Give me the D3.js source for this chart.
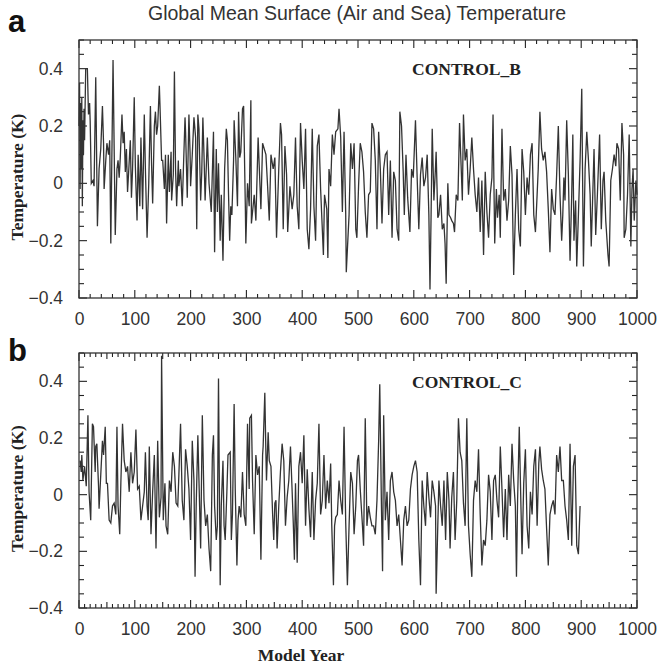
<!DOCTYPE html>
<html><head><meta charset="utf-8">
<script src="https://cdn.jsdelivr.net/npm/d3@7"></script>
<style>body{margin:0;background:#fff}</style>
</head><body><svg id="c" width="659" height="667"></svg>
<script>
// ---- Panel a: CONTROL_B (model year, temperature anomaly K) ----
const yearsA=[0,1,2,3,4,5,6,7,8,9,10,12,15,17,19,20,22,25,27,30,33,36,39,42,44,45,48,50,53,55,57,61,65,68,70,72,74,77,79,81,83,85,87,89,92,94,96,99,
101,104,106,109,111,114,117,119,122,125,128,130,132,135,137,139,141,144,145,148,150,153,155,157,160,162,165,166,169,171,173,175,178,179,182,185,190,191,194,197,199,
200,203,206,209,211,213,215,218,220,222,224,226,230,233,237,241,243,246,248,250,253,255,258,261,264,266,268,270,272,274,277,278,281,284,286,288,290,293,295,298,299,
302,305,308,309,314,317,321,326,329,335,338,341,344,348,351,354,358,361,363,366,369,372,374,378,382,385,388,391,394,397,
400,403,406,409,412,415,418,421,424,427,430,433,438,440,444,446,448,451,454,457,460,464,466,469,472,475,478,479,484,487,490,493,496,498,
501,504,507,510,513,516,519,522,525,528,531,534,537,540,543,546,549,552,555,558,561,564,567,570,573,575,578,581,583,586,589,593,596,599,
603,606,609,612,615,618,621,624,627,629,631,633,636,639,640,643,645,648,651,654,656,658,661,663,666,668,671,673,676,679,682,685,687,689,692,695,698,
701,704,707,710,713,716,719,722,725,728,731,734,737,740,742,745,748,750,753,755,758,761,764,767,770,773,776,779,782,785,788,791,794,797,
800,803,806,809,812,815,818,821,823,826,829,832,835,838,841,844,847,850,853,856,859,862,865,867,869,871,874,877,880,883,885,887,890,892,895,898,
901,904,907,910,913,916,918,921,923,926,929,933,936,939,941,944,948,950,953,956,959,962,964,967,970,973,976,977,980,983,986,989,991,993,995,998,1000];
const tempA=[.20,.35,-.02,.28,.05,.30,-.08,.22,.10,.26,.15,.40,.40,.24,.28,.22,.00,.01,-.01,.37,-.15,.05,.12,.27,.14,-.02,.08,.14,.10,.15,-.21,.43,-.18,.05,.08,.02,.09,.24,.14,.18,.04,.12,-.03,.04,.15,-.05,.05,.30,
.06,-.13,.10,-.08,.16,-.09,.24,.05,-.19,.00,.27,.07,-.07,.20,.25,.17,.20,.34,.28,.08,.08,-.02,.10,-.14,.10,-.03,.11,-.06,.03,.39,.05,-.08,.08,-.01,.05,-.08,.23,.18,-.05,.24,.11,
-.01,.10,.23,.16,-.16,.24,.19,-.06,.04,.23,.10,-.06,.16,.00,-.10,.18,-.24,.12,-.10,.07,-.20,-.04,-.27,.05,.19,.15,-.04,-.20,-.08,-.11,.08,.22,.09,-.08,.25,.09,.11,.26,.27,-.07,-.21,
.00,-.08,.29,-.14,-.04,-.13,.16,-.09,.14,.10,-.01,-.13,.10,.05,.09,-.19,.05,.21,.17,-.16,.13,.03,-.17,-.01,-.09,-.04,.16,-.08,-.16,.21,
.08,-.02,.19,-.16,-.23,-.09,.19,-.08,-.20,.13,.17,-.02,-.25,-.04,-.09,-.26,.05,-.01,.17,.10,.18,.19,.26,.16,-.10,.18,-.11,-.31,-.11,.14,.05,.14,-.16,-.19,
-.01,.14,.11,.04,-.10,-.19,-.04,-.03,.21,.19,.08,-.16,.18,.05,-.14,.05,.10,.11,-.11,.08,-.19,.04,.01,-.16,-.20,.25,.20,.04,-.11,.10,-.05,-.17,.05,.02,
.22,.02,-.16,.03,.09,-.01,.02,.10,-.11,-.37,-.11,.19,-.06,.06,.11,-.12,-.11,-.04,-.16,-.14,-.21,-.35,.00,-.11,-.12,-.13,-.14,-.17,-.04,-.06,.21,.05,-.06,.24,.08,.12,-.04,
.05,.16,.05,-.04,-.10,.02,-.17,.01,-.25,.04,-.10,-.19,-.04,.02,.24,-.21,-.02,-.12,-.04,-.19,.19,-.06,-.02,-.13,-.06,.13,.03,-.32,-.11,.05,-.16,-.22,.12,.04,
-.11,.02,-.04,.10,.14,-.11,-.17,-.04,.05,.25,.12,.08,.11,.04,-.09,-.24,-.02,-.09,-.11,.03,.20,-.04,-.20,-.11,.02,-.06,.22,.03,-.27,-.04,.17,-.20,-.06,-.29,-.11,.08,
.33,-.29,.05,.18,.08,-.04,-.22,-.02,.12,-.18,-.04,.17,-.16,.01,.04,-.13,-.25,-.29,.01,.05,.10,.06,.14,.12,-.06,.21,.10,-.19,-.16,-.04,.17,-.22,-.02,.05,-.13,.01,-.04];

// ---- Panel b: CONTROL_C ----
const yearsB=[2,4,5,7,10,13,16,18,21,24,26,29,30,32,35,36,39,42,44,47,49,51,54,57,60,63,66,68,70,73,75,78,81,84,87,90,93,96,99,
102,105,108,111,114,117,119,122,124,126,129,132,135,138,141,144,147,148,151,154,156,159,162,165,168,171,174,177,179,182,185,188,191,194,197,
200,203,206,208,210,213,215,218,221,224,227,230,233,236,239,241,243,246,248,250,253,255,258,260,262,265,267,271,273,275,278,280,283,285,287,290,293,296,299,
302,305,306,309,311,314,317,320,323,326,329,330,333,335,336,339,341,344,347,349,351,353,355,358,361,364,367,370,373,376,379,382,384,386,388,391,394,397,
400,403,406,409,412,415,418,421,424,427,430,433,436,439,442,445,448,451,453,456,458,460,463,466,469,472,475,478,481,484,487,490,493,496,499,
501,504,508,510,513,516,519,522,525,528,531,534,537,539,542,544,546,549,552,555,558,561,564,567,570,573,576,579,582,585,588,591,594,597,
600,603,606,609,612,615,618,621,624,627,630,633,636,639,640,643,645,648,651,654,657,660,663,665,668,671,674,677,680,683,686,689,692,695,698,
701,704,707,710,713,716,719,722,725,728,731,734,737,740,743,746,749,752,755,758,761,764,767,770,773,776,779,782,784,786,789,792,794,797,
800,803,806,809,812,815,818,821,824,826,829,832,835,838,841,844,847,850,853,856,859,862,865,868,871,874,877,880,883,886,889,892,895,898];
const tempB=[.12,.08,.14,.05,.10,.03,.28,.01,-.09,.25,.24,.08,.17,.18,.03,-.05,.07,.19,.14,.24,.04,.04,-.09,-.10,-.04,-.03,-.07,.24,-.04,-.14,.04,.25,.12,.08,.10,.01,.15,.04,.08,
.23,.02,.03,-.09,-.04,.01,.15,-.04,-.09,.17,-.14,.01,.14,-.19,.19,-.08,-.01,.49,-.09,.04,-.11,-.14,.05,.01,.15,.10,-.03,-.04,.07,.25,-.02,-.09,.16,.10,.02,
-.16,.19,.05,-.29,-.04,.21,.05,-.19,.28,-.02,-.11,-.07,-.19,-.27,.14,.21,-.04,-.16,-.11,.41,-.32,-.04,.12,-.11,-.16,.01,.14,.15,-.16,-.07,.32,.02,-.25,-.09,-.04,-.08,.08,-.07,-.11,
.25,.02,.27,.28,.05,-.14,.14,.07,.10,-.23,.14,.17,.36,.14,.05,.22,.12,.10,-.07,-.16,-.03,-.02,-.19,-.04,.08,.18,.12,-.11,-.01,.05,.17,.01,-.10,-.23,.04,-.24,.10,.15,
.04,.21,-.11,.09,-.05,-.15,.08,-.16,-.02,.04,.25,-.07,-.02,.14,-.05,.05,-.03,.11,-.11,-.32,-.11,-.08,-.07,.05,-.02,-.07,.24,-.10,-.32,-.11,.08,.04,-.14,-.04,.12,
.14,.02,-.11,-.18,.27,-.11,-.04,-.08,-.11,-.11,-.14,-.02,.19,.39,-.04,-.27,.28,-.09,.01,-.16,.05,.08,.01,-.02,-.11,-.07,-.16,-.25,-.09,-.04,-.11,-.09,.02,.07,
.10,.12,.08,-.16,-.32,.05,-.04,-.11,.08,-.01,-.08,.05,.01,-.04,-.35,-.11,.05,-.04,-.11,.05,-.16,.08,-.02,-.19,-.01,.08,-.16,-.02,.27,.15,.12,-.03,-.11,.27,-.11,
-.21,-.29,-.02,.05,.01,.16,-.07,-.25,-.16,-.18,-.09,.07,.01,-.16,.05,.07,-.02,-.08,.17,.02,-.15,.02,-.16,.07,-.04,.18,.05,-.04,-.29,-.02,.24,-.04,-.21,.04,
.16,-.11,-.19,.01,-.07,.10,.16,-.11,.11,.17,.09,.05,.02,-.12,-.25,-.07,-.04,-.02,-.07,.14,.08,.17,.05,.05,-.04,-.09,-.16,.18,-.18,.10,.14,-.18,-.21,-.04];

const xTickVals=[0,100,200,300,400,500,600,700,800,900,1000];
const yTickVals=[-0.4,-0.2,0,0.2,0.4];
const yDomain=[-0.4,0.5];
const titleText="Global Mean Surface (Air and Sea) Temperature";

const svg=d3.select("#c");
const X0=79,X1=637;
const sans="'Liberation Sans', Arial, sans-serif";
const serif="'Liberation Serif', 'Times New Roman', serif";
const tickInk="#222";

svg.append("text").attr("x",357).attr("y",20).attr("text-anchor","middle")
  .attr("font-family",sans).attr("font-size",19.5).attr("fill","#333").text(titleText);

function styleAxis(g){
  g.select(".domain").remove();
  g.selectAll("line").remove();
  g.selectAll("text").attr("font-family",sans).attr("font-size",17.5).attr("fill","#333");
}
const fmtY=d=>d===0?"0":d3.format(".1f")(d).replace("-","\u2212");

function panel(o){
  const x=d3.scaleLinear().domain([0,1000]).range([X0,X1]);
  const y=d3.scaleLinear().domain(yDomain).range([o.bottom,o.top]);
  const g=svg.append("g");
  const allX=d3.range(0,1001,o.minorStep);
  const allY=d3.range(-8,11).map(v=>v*0.05).filter(v=>v<=0.5001);
  const lenX=d=>d%100===0?8:((o.midStep&&d%o.midStep===0)?6:4);
  const lenY=d=>Math.abs(Math.round(d*20))%4===0?8:5;
  // tick labels via d3 axes
  g.append("g").attr("transform",`translate(0,${o.bottom})`)
    .call(d3.axisBottom(x).tickValues(xTickVals).tickSize(0).tickPadding(15).tickFormat(d=>String(d))).call(styleAxis);
  g.append("g").attr("transform",`translate(${X0},0)`)
    .call(d3.axisLeft(y).tickValues(yTickVals).tickSize(0).tickPadding(16).tickFormat(fmtY)).call(styleAxis);
  // inward tick marks on all four sides
  const tk=g.append("g").attr("stroke",tickInk).attr("stroke-width",1.1);
  tk.selectAll(".tb").data(allX).join("line").attr("class","tb")
    .attr("x1",d=>x(d)).attr("x2",d=>x(d)).attr("y1",o.bottom).attr("y2",d=>o.bottom-lenX(d));
  tk.selectAll(".tt").data(allX).join("line").attr("class","tt")
    .attr("x1",d=>x(d)).attr("x2",d=>x(d)).attr("y1",o.top).attr("y2",d=>o.top+lenX(d));
  tk.selectAll(".tl").data(allY).join("line").attr("class","tl")
    .attr("y1",d=>y(d)).attr("y2",d=>y(d)).attr("x1",X0).attr("x2",d=>X0+lenY(d));
  tk.selectAll(".tr").data(allY).join("line").attr("class","tr")
    .attr("y1",d=>y(d)).attr("y2",d=>y(d)).attr("x1",X1).attr("x2",d=>X1-lenY(d));
  // frame
  g.append("rect").attr("x",X0).attr("y",o.top).attr("width",X1-X0).attr("height",o.bottom-o.top)
    .attr("fill","none").attr("stroke","#333").attr("stroke-width",1.3);
  // series
  const data=o.years.map((yr,i)=>[yr,o.temps[i]]);
  g.append("path").datum(data)
    .attr("d",d3.line().x(d=>x(d[0])).y(d=>y(d[1])))
    .attr("fill","none").attr("stroke","#333").attr("stroke-width",1.3).attr("stroke-linejoin","miter");
  // labels
  g.append("text").attr("x",412).attr("y",o.top+35).attr("font-family",serif).attr("font-weight","bold")
    .attr("font-size",17.5).attr("fill","#222").text(o.name);
  g.append("text").attr("transform",`translate(23,${(o.top+o.bottom)/2+8}) rotate(-90)`).attr("text-anchor","middle")
    .attr("font-family",serif).attr("font-weight","bold").attr("font-size",17.5).attr("fill","#222").text("Temperature (K)");
  g.append("text").attr("x",8).attr("y",o.letterY).attr("font-family",sans).attr("font-weight","bold")
    .attr("font-size",31).attr("fill","#111").text(o.letter);
}

panel({top:40,bottom:298,years:yearsA,temps:tempA,minorStep:20,midStep:0,name:"CONTROL_B",letter:"a",letterY:32});
panel({top:353,bottom:608,years:yearsB,temps:tempB,minorStep:10,midStep:50,name:"CONTROL_C",letter:"b",letterY:361});

svg.append("text").attr("x",301).attr("y",661).attr("text-anchor","middle")
  .attr("font-family",serif).attr("font-weight","bold").attr("font-size",17.5).attr("fill","#222").text("Model Year");
</script></body></html>
